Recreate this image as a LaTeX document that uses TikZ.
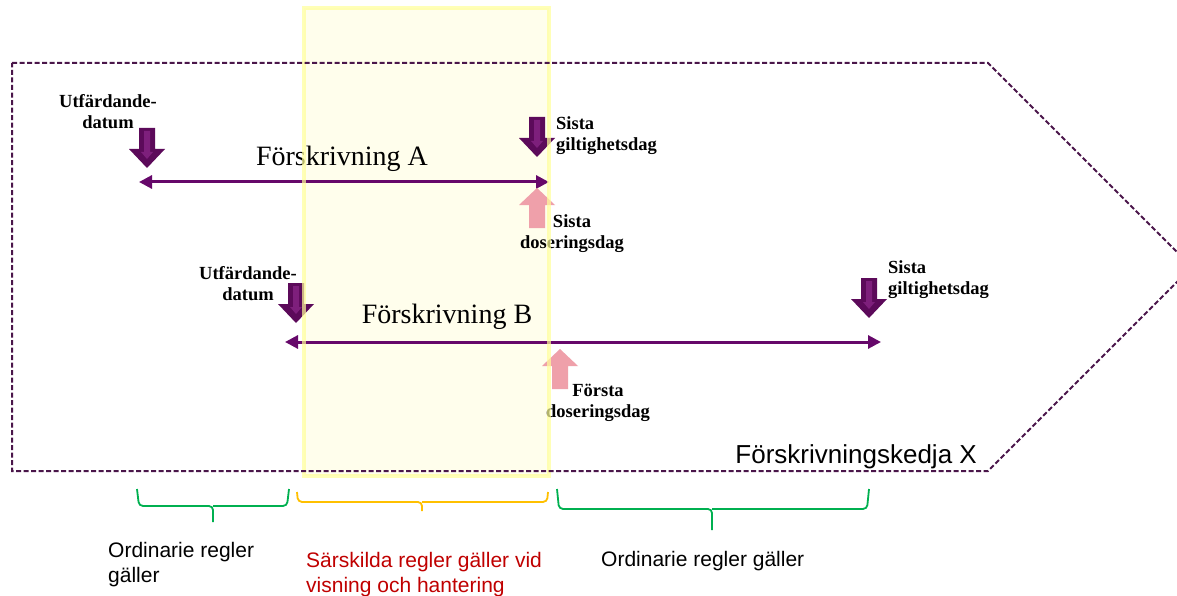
\documentclass[tikz,border=0pt]{standalone}
\usepackage{fontspec}
\setmainfont{Liberation Serif}
\setsansfont{Liberation Sans}
\usetikzlibrary{arrows.meta}
\definecolor{chain}{HTML}{4A164A}
\definecolor{darkp}{HTML}{5C0A5A}
\definecolor{lightp}{HTML}{7E1F7C}
\definecolor{linep}{HTML}{66086A}
\definecolor{pinkarr}{HTML}{EFA0AA}
\definecolor{ylw}{HTML}{FFFF99}
\definecolor{ylwfill}{HTML}{FFFEEC}
\definecolor{grn}{HTML}{00B050}
\definecolor{org}{HTML}{FFC000}
\definecolor{redtxt}{HTML}{C00000}
\tikzset{
  darr/.pic={
    \fill[darkp] (-8,0) -- (8,0) -- (8,21) -- (18,21) -- (0,40) -- (-18,21) -- (-8,21) -- cycle;
    \fill[lightp] (-3,3) -- (3,3) -- (3,24) -- (6,24) -- (0,31) -- (-6,24) -- (-3,24) -- cycle;
  },
  uarr/.pic={
    \fill[pinkarr] (0,0) -- (18,17) -- (8,17) -- (8,40) -- (-8,40) -- (-8,17) -- (-18,17) -- cycle;
  },
  conn/.style={linep, line width=3pt, {Triangle[length=13pt,width=13pt]}-{Triangle[length=13pt,width=13pt]}},
  lbl/.style={font=\bfseries\fontsize{18.5}{21}\selectfont, inner sep=0pt, align=center},
  lbll/.style={lbl, align=left},
  title/.style={font=\fontsize{28}{30}\selectfont, inner sep=0pt},
  sans/.style={font=\sffamily\fontsize{21}{25}\selectfont, inner sep=0pt, align=left},
  brace/.style={line width=1.8pt, rounded corners=4pt},
}
\begin{document}
\begin{tikzpicture}[x=1pt,y=-1pt]
\useasboundingbox (0,0) rectangle (1177,596);
\clip (0,0) rectangle (1177,596);
\fill[white] (0,0) rectangle (1177,596);
% yellow band fill
\fill[ylwfill] (304,8) rectangle (549,476);

% Förskrivning A
\coordinate (a1) at (139,182);
\coordinate (a2) at (549,182);
\draw[conn] (a1) -- (a2);
\node[title, anchor=base] (titA) at (342,166) {Förskrivning A};
\pic at (147,128) {darr};
\node[lbl, anchor=base] (utfA) at (108,129) {Utfärdande-\\datum};
\pic at (537,117) {darr};
\node[lbll, anchor=base west] (sistaGA) at (556,151) {Sista\\giltighetsdag};
\pic at (537,188) {uarr};
\node[lbl, anchor=base] (sistaDA) at (572,248) {Sista\\doseringsdag};

% Förskrivning B
\coordinate (b1) at (285,342);
\coordinate (b2) at (881,342);
\draw[conn] (b1) -- (b2);
\node[title, anchor=base] (titB) at (447,323) {Förskrivning B};
\pic at (296,283) {darr};
\node[lbl, anchor=base] (utfB) at (248,300) {Utfärdande-\\datum};
\pic at (869,278) {darr};
\node[lbll, anchor=base west] (sistaGB) at (888,294) {Sista\\giltighetsdag};
\pic at (560,349) {uarr};
\node[lbl, anchor=base] (forstaDB) at (598,417) {Första\\doseringsdag};

% yellow band border on top of arrows
\draw[ylw, line width=4.5pt, opacity=0.7] (304,8) rectangle (549,476);

% chain outline
\draw[chain, line width=2pt, dash pattern=on 5pt off 2.5pt]
  (12,63) -- (988,63) -- (1192,267) -- (988,471) -- (12,471) -- cycle;
\node[sans, font=\sffamily\fontsize{26}{28}\selectfont, anchor=base east] (kedja) at (977,463) {Förskrivningskedja X};

% braces
\draw[grn, brace] (137,489) -- (139,506) -- (213,506) -- (213,522);
\draw[grn, brace] (213,506) -- (287,506) -- (289,489);
\draw[org, brace] (297,492) -- (298,502) -- (422,502) -- (422,511);
\draw[org, brace] (422,502) -- (547,502) -- (548,492);
\draw[grn, brace] (557,489) -- (559,509) -- (712,509) -- (712,530);
\draw[grn, brace] (712,509) -- (867,509) -- (869,489);

\node[sans, anchor=base west] (ord1) at (108,582) {Ordinarie regler\\gäller};
\node[sans, anchor=base west, text=redtxt] (sars) at (306,592) {Särskilda regler gäller vid\\visning och hantering};
\node[sans, anchor=base west] (ord2) at (601,566) {Ordinarie regler gäller};
\end{tikzpicture}
\end{document}
